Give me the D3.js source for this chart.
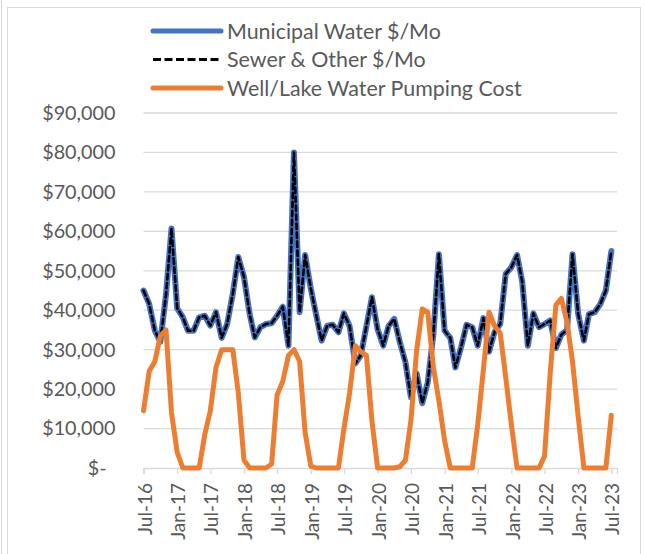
<!DOCTYPE html>
<html>
<head>
<meta charset="utf-8">
<script src="https://cdn.jsdelivr.net/npm/d3@7"></script>
<style>
  body { margin: 0; background: #fff; }
  text { font-family: Lato, "Open Sans", sans-serif; fill: #595959; }
</style>
</head>
<body>
<svg id="chart" width="645" height="554"></svg>
<script>
// months run Jul-16 .. Jul-23, one point per month
const firstMonth = "Jul-16";
const lastMonth = "Jul-23";
const tickLabels = ["Jul-16", "Jan-17", "Jul-17", "Jan-18", "Jul-18", "Jan-19", "Jul-19", "Jan-20",
    "Jul-20", "Jan-21", "Jul-21", "Jan-22", "Jul-22", "Jan-23", "Jul-23"];
const yTicks = [0, 10000, 20000, 30000, 40000, 50000, 60000, 70000, 80000, 90000];
const seriesNames = ["Municipal Water $/Mo", "Sewer & Other $/Mo", "Well/Lake Water Pumping Cost"];

const municipal = [45000, 41600, 34800, 32000, 44000, 60700, 40500, 38200, 34800, 34800,
    38200, 38600, 36100, 39500, 33000, 36500, 44200, 53500, 48400, 39000,
    33100, 35700, 36500, 36700, 38600, 40900, 31000, 80000, 39500, 54000,
    45500, 38500, 32300, 36100, 36300, 34400, 39200, 36000, 26500, 28500,
    36000, 43300, 35200, 31000, 36000, 37800, 32000, 26800, 17900, 24000,
    16400, 21700, 34000, 54200, 34800, 33000, 25500, 30600, 36300, 35700,
    31000, 38000, 29500, 34500, 36500, 49200, 50900, 54000, 47300, 31000,
    39200, 35700, 36500, 37400, 30400, 33800, 35000, 54200, 39000, 32300,
    39000, 39500, 41500, 45000, 55000];
const sewer = [45000, 41600, 34800, 32000, 44000, 60700, 40500, 38200, 34800, 34800,
    38200, 38600, 36100, 39500, 33000, 36500, 44200, 53500, 48400, 39000,
    33100, 35700, 36500, 36700, 38600, 40900, 31000, 80000, 39500, 54000,
    45500, 38500, 32300, 36100, 36300, 34400, 39200, 36000, 26500, 28500,
    36000, 43300, 35200, 31000, 36000, 37800, 32000, 26800, 17900, 24000,
    16400, 21700, 34000, 54200, 34800, 33000, 25500, 30600, 36300, 35700,
    31000, 38000, 29500, 34500, 36500, 49200, 50900, 54000, 47300, 31000,
    39200, 35700, 36500, 37400, 30400, 33800, 35000, 54200, 39000, 32300,
    39000, 39500, 41500, 45000, 55000];
const pumping = [14500, 24500, 27000, 33500, 35000, 14000, 4000, 0, 0, 0,
    0, 8500, 14500, 25500, 30000, 30000, 30000, 19000, 2000, 0,
    0, 0, 0, 1000, 18500, 22000, 28500, 30000, 27000, 9000,
    500, 0, 0, 0, 0, 0, 10000, 19000, 31000, 29500,
    28500, 12000, 0, 0, 0, 0, 300, 2000, 12000, 29700,
    40300, 39500, 25500, 17000, 7000, 0, 0, 0, 0, 0,
    11000, 25000, 39500, 36000, 34200, 23000, 11000, 0, 0, 0,
    0, 0, 3000, 24000, 41300, 43000, 37000, 27000, 13000, 0,
    0, 0, 0, 0, 13400];

const parseMonth = d3.timeParse("%b-%y");
const start = parseMonth(firstMonth);
const end = d3.timeMonth.offset(parseMonth(lastMonth), 1);
const months = d3.timeMonth.range(start, end);

const svg = d3.select("#chart");

// chart frame
svg.append("line")
    .attr("x1", 1.5).attr("x2", 1.5).attr("y1", 0).attr("y2", 554)
    .attr("stroke", "#d9d9d9");
svg.append("rect")
    .attr("x", 7.5).attr("y", 7.5).attr("width", 633).attr("height", 560)
    .attr("fill", "none").attr("stroke", "#d9d9d9");

const x = d3.scaleTime().domain([start, end]).range([143.5, 617]);
const y = d3.scaleLinear().domain([0, 90000]).range([468, 113]);

// horizontal gridlines
svg.append("g")
    .selectAll("line")
    .data(yTicks.filter(d => d > 0))
    .enter()
    .append("line")
    .attr("x1", x(start)).attr("x2", x(end))
    .attr("y1", d => y(d)).attr("y2", d => y(d))
    .attr("stroke", "#d9d9d9")
    .attr("stroke-width", 1.3);

// y axis labels
const yAxis = svg.append("g")
    .attr("transform", "translate(" + x(start) + ",0)")
    .call(d3.axisLeft(y)
        .tickValues(yTicks)
        .tickSize(0)
        .tickPadding(28)
        .tickFormat(d => d === 0 ? "$-" : d3.format("$,")(d)));
yAxis.select(".domain").remove();
yAxis.selectAll("text")
    .attr("font-family", null)
    .style("font-size", "19.8px")
    .attr("dx", d => d === 0 ? -9 : 0);

// x axis
const xAxis = svg.append("g")
    .attr("transform", "translate(0," + y(0) + ")")
    .call(d3.axisBottom(x)
        .tickValues(tickLabels.map(parseMonth))
        .tickFormat(d3.timeFormat("%b-%y"))
        .tickSizeOuter(0)
        .tickSize(6));
xAxis.select(".domain").attr("stroke", "#d9d9d9").attr("stroke-width", 1.3);
xAxis.selectAll(".tick line").attr("stroke", "#d9d9d9").attr("stroke-width", 1.3);
xAxis.selectAll("text")
    .attr("font-family", null)
    .style("font-size", "19px")
    .attr("transform", "rotate(-90)")
    .attr("text-anchor", "end")
    .attr("x", -15)
    .attr("y", 0)
    .attr("dy", "0.4em");

// series
const series = [
    { name: seriesNames[0], values: municipal, color: "#4472C4", width: 6, dash: null },
    { name: seriesNames[1], values: sewer, color: "#000000", width: 2.6, dash: "5.5,3.5" },
    { name: seriesNames[2], values: pumping, color: "#ED7D31", width: 5, dash: null }
];

const line = d3.line()
    .x((d, i) => x(months[i]))
    .y(d => y(d));

svg.append("g")
    .selectAll("path")
    .data(series)
    .enter()
    .append("path")
    .attr("d", d => line(d.values))
    .attr("fill", "none")
    .attr("stroke", d => d.color)
    .attr("stroke-width", d => d.width)
    .attr("stroke-dasharray", d => d.dash)
    .attr("stroke-linejoin", "round")
    .attr("stroke-linecap", "round");

// legend
const legend = svg.append("g")
    .selectAll("g")
    .data(series)
    .enter()
    .append("g")
    .attr("transform", (d, i) => "translate(0," + (31 + i * 28.5) + ")");
legend.append("line")
    .attr("x1", 153).attr("x2", 221)
    .attr("stroke", d => d.color)
    .attr("stroke-width", d => d.dash ? 3 : 5)
    .attr("stroke-dasharray", d => d.dash ? "8,3.5" : null)
    .attr("stroke-linecap", d => d.dash ? "butt" : "round");
legend.append("text")
    .attr("x", 227)
    .attr("dy", "0.35em")
    .style("font-size", "21.4px")
    .text(d => d.name);
</script>
</body>
</html>
